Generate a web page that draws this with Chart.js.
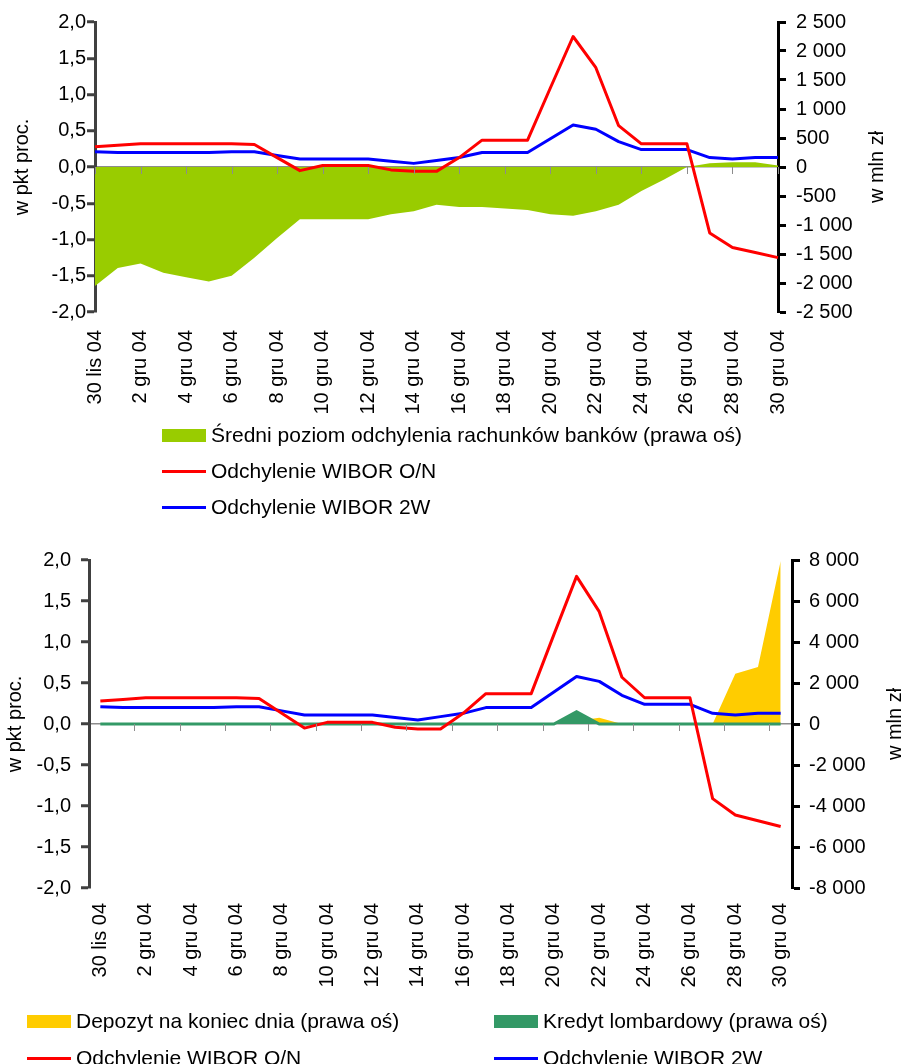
<!DOCTYPE html>
<html>
<head>
<meta charset="utf-8">
<script src="https://cdn.jsdelivr.net/npm/chart.js@4.4.1/dist/chart.umd.min.js"></script>
<style>
    html, body { margin: 0; padding: 0; background: #fff; }
    body { width: 903px; height: 1064px; position: relative; overflow: hidden;
           font-family: "Liberation Sans", Arial, sans-serif; }
    canvas { position: absolute; left: 0; }
    #chartTop { top: 0; }
    #chartBottom { top: 535px; }
    .item { position: absolute; height: 30px; display: flex; align-items: center;
            white-space: nowrap; font-size: 21px; color: #000; }
    .swatch { width: 44px; margin-right: 5px; }
</style>
</head>
<body>
<canvas id="chartTop" width="903" height="535"></canvas>
<canvas id="chartBottom" width="903" height="529"></canvas>
<div id="legends"></div>

<script>
// ===== DATA =====
const days = [
    "30 lis 04", "1 gru 04", "2 gru 04", "3 gru 04", "4 gru 04", "5 gru 04", "6 gru 04",
    "7 gru 04", "8 gru 04", "9 gru 04", "10 gru 04", "11 gru 04", "12 gru 04", "13 gru 04",
    "14 gru 04", "15 gru 04", "16 gru 04", "17 gru 04", "18 gru 04", "19 gru 04", "20 gru 04",
    "21 gru 04", "22 gru 04", "23 gru 04", "24 gru 04", "25 gru 04", "26 gru 04", "27 gru 04",
    "28 gru 04", "29 gru 04", "30 gru 04"
];

// odchylenia stawek (pkt proc.)
const wiborON = [0.28, 0.30, 0.32, 0.32, 0.32, 0.32, 0.32, 0.31, 0.13, -0.05, 0.02, 0.02, 0.02, -0.04, -0.06, -0.06,
                 0.13, 0.37, 0.37, 0.37, 1.09, 1.80, 1.37, 0.57, 0.32, 0.32, 0.32, -0.91, -1.11, -1.18, -1.25];
const wibor2W = [0.21, 0.20, 0.20, 0.20, 0.20, 0.20, 0.21, 0.21, 0.16, 0.11, 0.11, 0.11, 0.11, 0.08, 0.05, 0.09,
                 0.13, 0.20, 0.20, 0.20, 0.39, 0.58, 0.52, 0.35, 0.24, 0.24, 0.24, 0.13, 0.11, 0.13, 0.13];

// w mln zł
const avgDeviation = [-2050, -1740, -1665, -1825, -1900, -1975, -1875, -1565, -1225, -900, -900, -900, -900, -815, -765, -650,
                      -690, -690, -715, -740, -815, -840, -765, -650, -415, -215, 0, 65, 80, 80, 25];
const depositEOD = [0, 0, 0, 0, 0, 0, 0, 0, 0, 0, 0, 0, 0, 0, 0, 0,
                    0, 0, 0, 0, 0, 150, 300, 0, 0, 0, 0, 0, 2450, 2780, 7950];
const lombardCredit = [0, 0, 0, 0, 0, 0, 0, 0, 0, 0, 0, 0, 0, 0, 0, 0,
                       0, 0, 0, 0, 0, 600, 0, 0, 0, 0, 0, 0, 0, 0, 0];

// axis ranges
const pctRange = { min: -2, max: 2, step: 0.5 };
const mlnTopRange = { min: -2500, max: 2500, step: 500 };
const mlnBottomRange = { min: -8000, max: 8000, step: 2000 };

// ===== HELPERS =====
const FONT = '"Liberation Sans", Arial, sans-serif';
Chart.defaults.font.family = FONT;
Chart.defaults.color = "#000";

function fmtPct(v) {
    return v.toFixed(1).replace(".", ",");
}

function fmtMln(v) {
    const s = Math.abs(Math.round(v)).toString().replace(/\B(?=(\d{3})+(?!\d))/g, " ");
    return (v < 0 ? "-" : "") + s;
}

// small ticks on the zero line + right axis title (reads bottom to top)
const axisDecor = {
    id: "axisDecor",
    afterDatasetsDraw(chart, args, opts) {
        const ctx = chart.ctx;
        const xs = chart.scales.x;
        const y0 = chart.scales.y.getPixelForValue(0);
        ctx.save();
        ctx.strokeStyle = "#8c8c8c";
        ctx.lineWidth = 1;
        opts.tickAt.forEach(v => {
            const px = Math.round(xs.getPixelForValue(v)) + 0.5;
            ctx.beginPath();
            ctx.moveTo(px, y0);
            ctx.lineTo(px, y0 + 7);
            ctx.stroke();
        });
        const y1 = chart.scales.y1;
        ctx.translate(opts.titleX, (y1.top + y1.bottom) / 2);
        ctx.rotate(-Math.PI / 2);
        ctx.font = "20px " + FONT;
        ctx.textAlign = "center";
        ctx.textBaseline = "middle";
        ctx.fillStyle = "#000";
        ctx.fillText(opts.title, 0, 0);
        ctx.restore();
    }
};

function makeOptions(cfg) {
    return {
        responsive: false,
        animation: false,
        layout: { padding: { top: cfg.top, left: 0, right: 0, bottom: 0 } },
        elements: { point: { radius: 0 }, line: { tension: 0 } },
        plugins: {
            legend: { display: false },
            tooltip: { enabled: false },
            axisDecor: { tickAt: cfg.tickAt, titleX: cfg.rightTitleX, title: "w mln zł" }
        },
        scales: {
            x: {
                offset: cfg.offset,
                grid: { display: false, drawTicks: false },
                border: { display: false },
                ticks: {
                    autoSkip: false, minRotation: 90, maxRotation: 90,
                    padding: cfg.xPad, font: { size: 20 },
                    callback: (v, i) => (i % 2 === 0 ? days[i] : "")
                },
                afterFit: s => { s.height = cfg.xHeight; }
            },
            y: {
                position: "left",
                min: pctRange.min, max: pctRange.max,
                grid: {
                    color: c => (c.tick && c.tick.value === 0 ? "#8c8c8c" : "rgba(0,0,0,0)"),
                    lineWidth: 1.5,
                    tickColor: "#404040", tickWidth: 3, tickLength: 8
                },
                border: { color: "#404040", width: 3 },
                ticks: { stepSize: pctRange.step, padding: cfg.leftPad, font: { size: 20 }, callback: v => fmtPct(v) },
                title: { display: true, text: "w pkt proc.", font: { size: 20 }, padding: { top: cfg.leftTitlePad, bottom: 0 } },
                afterFit: s => { s.width = cfg.leftW; }
            },
            y1: {
                position: "right",
                min: cfg.mln.min, max: cfg.mln.max,
                grid: { drawOnChartArea: false, color: "rgba(0,0,0,0)", tickColor: "#000", tickWidth: 3, tickLength: 8 },
                border: { color: "#000", width: 3 },
                ticks: { stepSize: cfg.mln.step, padding: cfg.rightPad, font: { size: 20 }, callback: v => fmtMln(v) },
                afterFit: s => { s.width = cfg.rightW; }
            }
        }
    };
}

function lineSet(label, data, color) {
    return { label, data, yAxisID: "y", borderColor: color, backgroundColor: color,
             borderWidth: 3, borderJoinStyle: "round", fill: false, order: 0, legendType: "line" };
}

function areaSet(label, data, color, border, order) {
    return { label, data, yAxisID: "y1", backgroundColor: color,
             borderColor: border ? color : "rgba(0,0,0,0)", borderWidth: border,
             fill: "origin", order, legendType: "box" };
}

// ===== TOP CHART =====
const chartTop = new Chart(document.getElementById("chartTop"), {
    type: "line",
    data: {
        labels: days,
        datasets: [
            areaSet("Średni poziom odchylenia rachunków banków (prawa oś)", avgDeviation, "#99CC00", 0, 1),
            lineSet("Odchylenie WIBOR O/N", wiborON, "#FF0000"),
            lineSet("Odchylenie WIBOR 2W", wibor2W, "#0000FF")
        ]
    },
    options: makeOptions({
        top: 20, offset: false, xPad: 18, xHeight: 223,
        leftW: 95, rightW: 125, leftPad: 1, rightPad: 10, leftTitlePad: 10,
        mln: mlnTopRange, rightTitleX: 877,
        tickAt: [0, 2, 4, 6, 8, 10, 12, 14, 16, 18, 20, 22, 24, 26, 28, 30]
    }),
    plugins: [axisDecor]
});

// ===== BOTTOM CHART =====
const chartBottom = new Chart(document.getElementById("chartBottom"), {
    type: "line",
    data: {
        labels: days,
        datasets: [
            areaSet("Depozyt na koniec dnia (prawa oś)", depositEOD, "#FFCC00", 0, 2),
            areaSet("Kredyt lombardowy (prawa oś)", lombardCredit, "#339966", 3, 1),
            lineSet("Odchylenie WIBOR O/N", wiborON, "#FF0000"),
            lineSet("Odchylenie WIBOR 2W", wibor2W, "#0000FF")
        ]
    },
    options: makeOptions({
        top: 25, offset: true, xPad: 15, xHeight: 176,
        leftW: 89, rightW: 111, leftPad: 10, rightPad: 9, leftTitlePad: 3,
        mln: mlnBottomRange, rightTitleX: 895,
        tickAt: [1.5, 3.5, 5.5, 7.5, 9.5, 11.5, 13.5, 15.5, 17.5, 19.5, 21.5, 23.5, 25.5, 27.5, 29.5]
    }),
    plugins: [axisDecor]
});

// ===== HTML LEGENDS =====
const legendSpots = [
    { chart: chartTop, pos: [[162, 435], [162, 471], [162, 507]] },
    { chart: chartBottom, pos: [[27, 1021], [494, 1021], [27, 1058], [494, 1058]] }
];

const legendRoot = document.getElementById("legends");
legendSpots.forEach(spot => {
    spot.chart.data.datasets.forEach((ds, i) => {
        const [x, cy] = spot.pos[i];
        const item = document.createElement("div");
        item.className = "item";
        item.style.left = x + "px";
        item.style.top = (cy - 15) + "px";
        const sw = document.createElement("span");
        sw.className = "swatch";
        sw.style.height = ds.legendType === "box" ? "13px" : "3px";
        sw.style.background = ds.legendType === "box" ? ds.backgroundColor : ds.borderColor;
        const txt = document.createElement("span");
        txt.textContent = ds.label;
        item.appendChild(sw);
        item.appendChild(txt);
        legendRoot.appendChild(item);
    });
});
</script>
</body>
</html>
